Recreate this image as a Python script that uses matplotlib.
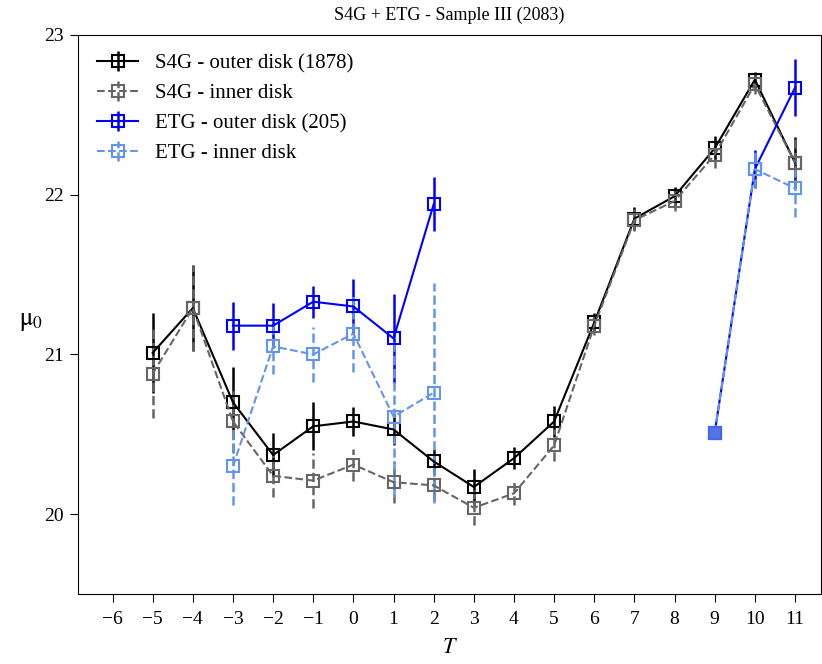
import numpy as np
import matplotlib.pyplot as plt

plt.rcParams['font.family'] = ['Liberation Serif', 'DejaVu Serif']
plt.rcParams['mathtext.fontset'] = 'stix'

# Hubble type bins
T = np.arange(-5, 12)

# S4G sample
s4g_outer = [21.01, 21.29, 20.70, 20.37, 20.55, 20.58, 20.53, 20.33, 20.17,
             20.35, 20.58, 21.20, 21.85, 21.99, 22.29, 22.72, 22.20]
s4g_outer_err = [0.25, 0.27, 0.22, 0.14, 0.15, 0.09, 0.10, 0.08, 0.11,
                 0.07, 0.10, 0.06, 0.07, 0.06, 0.08, 0.05, 0.16]
s4g_inner = [20.88, 21.29, 20.58, 20.24, 20.21, 20.31, 20.20, 20.18, 20.04,
             20.13, 20.43, 21.18, 21.84, 21.96, 22.25, 22.69, 22.20]
s4g_inner_err = [0.28, 0.27, 0.20, 0.13, 0.17, 0.10, 0.13, 0.10, 0.11,
                 0.07, 0.10, 0.06, 0.07, 0.06, 0.08, 0.06, 0.16]

# ETG sample (no galaxies for T = 3..8)
nan = np.nan
etg_outer = [nan, nan, 21.18, 21.18, 21.33, 21.30, 21.10, 21.94, nan,
             nan, nan, nan, nan, nan, 20.51, 22.16, 22.67]
etg_outer_err = [nan, nan, 0.15, 0.14, 0.10, 0.17, 0.28, 0.17, nan,
                 nan, nan, nan, nan, nan, 0.0, 0.12, 0.18]
etg_inner = [nan, nan, 20.30, 21.05, 21.00, 21.13, 20.61, 20.76, nan,
             nan, nan, nan, nan, nan, 20.51, 22.16, 22.04]
etg_inner_err = [nan, nan, 0.24, 0.17, 0.17, 0.24, 0.50, 0.69, nan,
                 nan, nan, nan, nan, nan, 0.0, 0.12, 0.18]

fig = plt.figure(figsize=(8.22, 6.64), dpi=100)
ax = fig.add_axes([0.0949, 0.1054, 0.904, 0.842])

series = [
    (s4g_outer, s4g_outer_err, 'black', '-', 'S4G - outer disk (1878)'),
    (s4g_inner, s4g_inner_err, '#666666', '--', 'S4G - inner disk'),
    (etg_outer, etg_outer_err, '#0000ff', '-', 'ETG - outer disk (205)'),
    (etg_inner, etg_inner_err, '#6495ed', '--', 'ETG - inner disk'),
]
for vals, errs, col, ls, lab in series:
    eb = ax.errorbar(T, vals, yerr=errs, color=col, ls=ls, lw=1.5,
                     elinewidth=1.8, marker='s', ms=9, mfc='none',
                     mec=col, mew=1.5, label=lab)
    eb[2][0].set_linestyle(ls)

# single ETG galaxy bin at T=9
ax.plot([9], [etg_inner[14]], 's', ms=9, color='#5474e6', mec='#4a66e8',
        mew=1.5, zorder=5)

ax.set_xlim(-6.86, 11.65)
ax.set_ylim(19.5, 23)
ax.set_xticks(np.arange(-6, 12))
ax.set_yticks([20, 21, 22, 23])
ax.tick_params(labelsize=14, length=5.5, pad=5)
ax.tick_params(axis='x', pad=7)
ax.set_xlabel('$T$', fontsize=16, labelpad=8)
ax.set_ylabel(r'$\mathrm{\mu}_0$', fontsize=18, rotation=0, va='center')
ax.yaxis.set_label_coords(-0.063, 0.487)
ax.set_title('S4G + ETG - Sample III (2083)', fontsize=13, pad=11)
ax.legend(loc='upper left', frameon=False, fontsize=15)

plt.savefig('out.png', dpi=100)
